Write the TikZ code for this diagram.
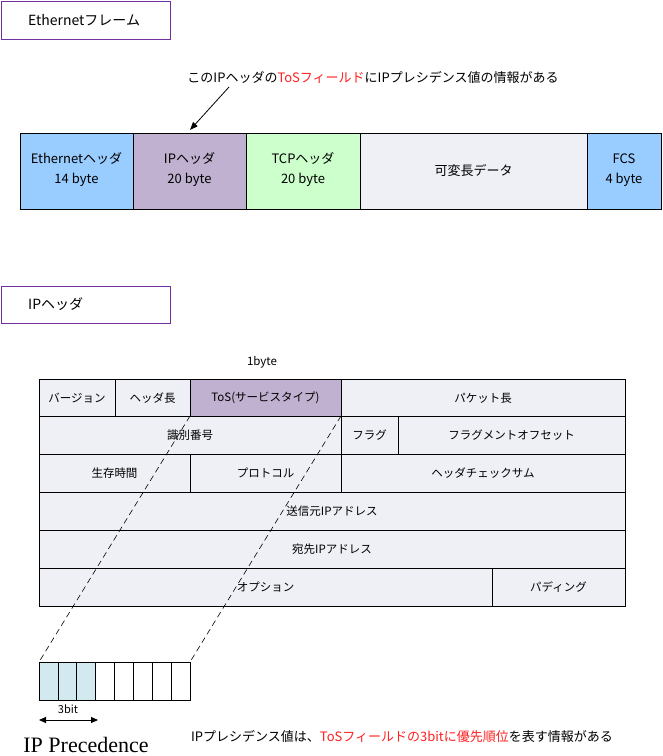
\documentclass[tikz,border=0pt]{standalone}
\usepackage{fontspec}
\setmainfont{Noto Sans CJK JP}
\newfontfamily\serifit{Liberation Serif}
\usetikzlibrary{arrows.meta}
\definecolor{fblue}{HTML}{99CCFF}
\definecolor{fpurp}{HTML}{BFB1CF}
\definecolor{fgreen}{HTML}{CCFFCC}
\definecolor{fgrey}{HTML}{EEF0F5}
\definecolor{fcyan}{HTML}{D2E9EF}
\definecolor{tbord}{HTML}{7030A0}
\definecolor{tred}{HTML}{FF2020}
\begin{document}
\begin{tikzpicture}[x=1pt,y=-1pt,font=\fontsize{13}{15}\selectfont,
 cell/.style={draw=black,line width=0.6pt},
 title/.style={draw=tbord,line width=0.8pt,fill=white},
 lbl/.style={align=center,inner sep=0pt}]
\useasboundingbox (0,0) rectangle (663,756);
% titles
\draw[title] (1,1) rectangle (170,39);
\node[lbl,anchor=west] (t1) at (28,20) {\fontsize{14}{16}\selectfont Ethernetフレーム};
\draw[title] (1,286) rectangle (170,323);
\node[lbl,anchor=west] (t2) at (28,304) {\fontsize{14}{16}\selectfont IPヘッダ};
% annotation
\node[lbl] (ann) at (373,77) {このIPヘッダの\textcolor{tred}{ToSフィールド}にIPプレシデンス値の情報がある};
\coordinate (ae) at (190,130);
\draw[-{Triangle[length=8pt,width=6pt]},line width=0.8pt] (229,87) -- (ae);
% frame
\draw[cell,fill=fblue] (20,133) rectangle (133,209);
\draw[cell,fill=fpurp] (133,133) rectangle (246,209);
\draw[cell,fill=fgreen] (246,133) rectangle (360,209);
\draw[cell,fill=fgrey] (360,133) rectangle (587,209);
\draw[cell,fill=fblue] (587,133) rectangle (661,209);
\node[lbl] (f1) at (76.5,170) {Ethernetヘッダ\\[5pt]14 byte};
\node[lbl] (f2) at (189.5,170) {IPヘッダ\\[5pt]20 byte};
\node[lbl] (f3) at (303,170) {TCPヘッダ\\[5pt]20 byte};
\node[lbl] (f4) at (473.5,170) {可変長データ};
\node[lbl] (f5) at (624,170) {FCS\\[5pt]4 byte};
% IP header table
\begin{scope}[font=\fontsize{11.5}{13}\selectfont]
\node[lbl] (b1) at (262,362) {1byte};
\foreach \a/\b/\y/\t/\c in {39/115/379/バージョン/fgrey,115/190/379/ヘッダ長/fgrey,190/341/379/ToS(サービスタイプ)/fpurp,341/625/379/パケット長/fgrey,
 39/341/416/識別番号/fgrey,341/398/416/フラグ/fgrey,398/625/416/フラグメントオフセット/fgrey,
 39/190/454/生存時間/fgrey,190/341/454/プロトコル/fgrey,341/625/454/ヘッダチェックサム/fgrey,
 39/625/492/送信元IPアドレス/fgrey,39/625/530/宛先IPアドレス/fgrey,
 39/492/568/オプション/fgrey,492/625/568/パディング/fgrey}{
 \draw[cell,fill=\c] (\a,\y) rectangle (\b,\y+38);
 \node[lbl] at ({(\a+\b)/2},\y+19) {\t};
}
\end{scope}
% bits
\foreach \i in {0,...,7}{
 \pgfmathsetmacro\xa{39+\i*18.875}
 \ifnum\i<3 \def\bc{fcyan}\else\def\bc{white}\fi
 \draw[cell,fill=\bc] (\xa,662) rectangle (\xa+18.875,700);
}
\coordinate (tl) at (190,416);
\coordinate (tr) at (341,416);
\coordinate (bl) at (39,662);
\coordinate (br) at (190,662);
\draw[dash pattern=on 6pt off 4pt,line width=0.6pt] (tl) -- (bl);
\draw[dash pattern=on 6pt off 4pt,line width=0.6pt] (tr) -- (br);
\coordinate (a1) at (39,720);
\coordinate (a2) at (98,720);
\draw[{Triangle[length=7pt,width=6pt]}-{Triangle[length=7pt,width=6pt]},line width=1pt] (a1) -- (a2);
\node[lbl,font=\fontsize{11}{13}\selectfont] (tb) at (68,709) {3bit};
\node[lbl,font=\serifit\fontsize{22}{24}\selectfont] (ipp) at (86,745) {IP Precedence};
\node[lbl] (bot) at (402,737) {IPプレシデンス値は、\textcolor{tred}{ToSフィールドの3bitに優先順位}を表す情報がある};
\end{tikzpicture}
\end{document}
